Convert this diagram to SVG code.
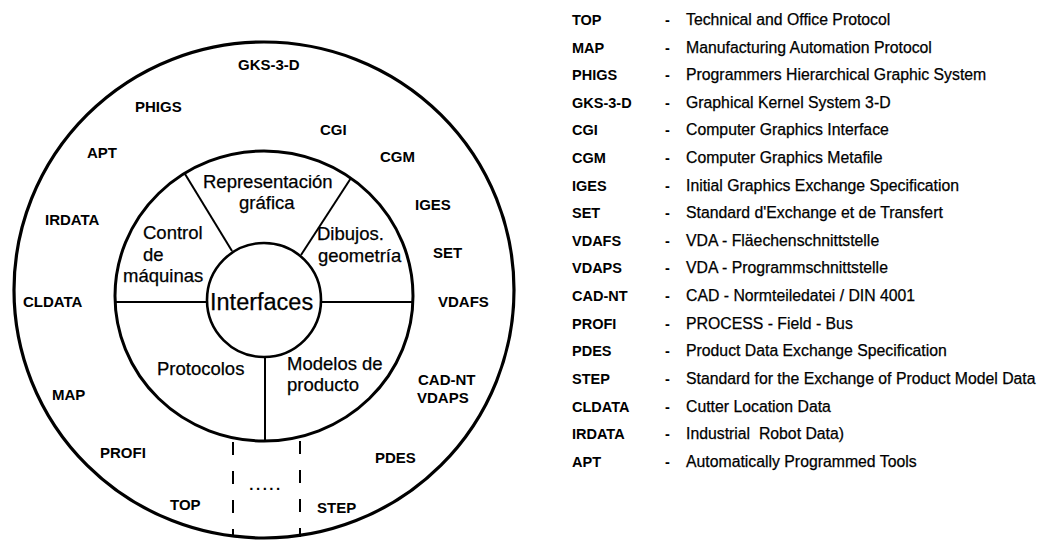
<svg xmlns="http://www.w3.org/2000/svg" width="1061" height="543" viewBox="0 0 1061 543">
  <style>
    .ring { fill: none; stroke: #000; }
    .div { stroke: #000; stroke-width: 2; fill: none; }
    .dash { stroke: #000; stroke-width: 2; stroke-dasharray: 13 16; fill: none; }
    .std { font-family: "Liberation Sans", Arial, sans-serif; font-size: 15px; font-weight: bold; fill: #000; }
    .sec { font-family: "Liberation Sans", Arial, sans-serif; font-size: 18.5px; fill: #000; stroke: #000; stroke-width: 0.25; }
    .core { font-family: "Liberation Sans", Arial, sans-serif; font-size: 23.5px; fill: #000; stroke: #000; stroke-width: 0.25; }
    .abbr { font-family: "Liberation Sans", Arial, sans-serif; font-size: 14.5px; font-weight: bold; fill: #000; }
    .desc { font-family: "Liberation Sans", Arial, sans-serif; font-size: 15.8px; fill: #000; stroke: #000; stroke-width: 0.25; }
  </style>

  <!-- concentric rings -->
  <g id="rings">
    <ellipse id="outer-ring" class="ring" cx="264" cy="290" rx="250" ry="248" stroke-width="3.2"/>
    <ellipse id="middle-ring" class="ring" cx="264" cy="296" rx="149" ry="145" stroke-width="3"/>
    <circle id="core-ring" class="ring" cx="264" cy="300" r="57" stroke-width="2.6"/>
  </g>

  <!-- sector dividers -->
  <g id="connectors">
    <line class="div" x1="185" y1="174" x2="232" y2="251"/>
    <line class="div" x1="351" y1="178" x2="301" y2="255"/>
    <line class="div" x1="115" y1="302" x2="207" y2="302"/>
    <line class="div" x1="321" y1="302" x2="413" y2="302"/>
    <line class="div" x1="265" y1="357" x2="265" y2="441"/>
    <line class="dash" x1="233" y1="442" x2="233" y2="537"/>
    <line class="dash" x1="300" y1="441" x2="300" y2="537"/>
  </g>

  <!-- centre -->
  <g id="interfaces">
    <text class="core" x="210" y="310">Interfaces</text>
  </g>

  <!-- sectors of the middle ring -->
  <g id="sector-representacion">
    <text class="sec" x="203" y="188">Representación</text>
    <text class="sec" x="239" y="209">gráfica</text>
  </g>
  <g id="sector-control">
    <text class="sec" x="143" y="239">Control</text>
    <text class="sec" x="143" y="261">de</text>
    <text class="sec" x="123" y="282">máquinas</text>
  </g>
  <g id="sector-dibujos">
    <text class="sec" x="317" y="240">Dibujos.</text>
    <text class="sec" x="318" y="262">geometría</text>
  </g>
  <g id="sector-protocolos">
    <text class="sec" x="157" y="375">Protocolos</text>
  </g>
  <g id="sector-modelos">
    <text class="sec" x="287" y="370">Modelos de</text>
    <text class="sec" x="287" y="391">producto</text>
  </g>

  <!-- standards in the outer ring -->
  <g id="std-gks"><text class="std" x="238" y="70">GKS-3-D</text></g>
  <g id="std-phigs"><text class="std" x="135" y="112">PHIGS</text></g>
  <g id="std-cgi"><text class="std" x="320" y="135">CGI</text></g>
  <g id="std-apt"><text class="std" x="87" y="158">APT</text></g>
  <g id="std-cgm"><text class="std" x="380" y="162">CGM</text></g>
  <g id="std-iges"><text class="std" x="415" y="210">IGES</text></g>
  <g id="std-irdata"><text class="std" x="45" y="225">IRDATA</text></g>
  <g id="std-set"><text class="std" x="433" y="258">SET</text></g>
  <g id="std-cldata"><text class="std" x="23" y="307">CLDATA</text></g>
  <g id="std-vdafs"><text class="std" x="438" y="307">VDAFS</text></g>
  <g id="std-cadnt"><text class="std" x="418" y="385">CAD-NT</text><text class="std" x="417" y="403">VDAPS</text></g>
  <g id="std-map"><text class="std" x="52" y="400">MAP</text></g>
  <g id="std-profi"><text class="std" x="100" y="458">PROFI</text></g>
  <g id="std-pdes"><text class="std" x="375" y="463">PDES</text></g>
  <g id="std-top"><text class="std" x="170" y="510">TOP</text></g>
  <g id="std-step"><text class="std" x="317" y="513">STEP</text></g>
  <g id="std-more"><text class="std" x="266" y="490" text-anchor="middle" letter-spacing="2.5">.....</text></g>

  <!-- glossary -->
  <g id="legend">
    <g id="leg-top"><text class="abbr" x="572" y="25">TOP</text><text class="abbr" x="665" y="25">-</text><text class="desc" x="686" y="25">Technical and Office Protocol</text></g>
    <g id="leg-map"><text class="abbr" x="572" y="53">MAP</text><text class="abbr" x="665" y="53">-</text><text class="desc" x="686" y="53">Manufacturing Automation Protocol</text></g>
    <g id="leg-phigs"><text class="abbr" x="572" y="80">PHIGS</text><text class="abbr" x="665" y="80">-</text><text class="desc" x="686" y="80">Programmers Hierarchical Graphic System</text></g>
    <g id="leg-gks"><text class="abbr" x="572" y="108">GKS-3-D</text><text class="abbr" x="665" y="108">-</text><text class="desc" x="686" y="108">Graphical Kernel System 3-D</text></g>
    <g id="leg-cgi"><text class="abbr" x="572" y="135">CGI</text><text class="abbr" x="665" y="135">-</text><text class="desc" x="686" y="135">Computer Graphics Interface</text></g>
    <g id="leg-cgm"><text class="abbr" x="572" y="163">CGM</text><text class="abbr" x="665" y="163">-</text><text class="desc" x="686" y="163">Computer Graphics Metafile</text></g>
    <g id="leg-iges"><text class="abbr" x="572" y="191">IGES</text><text class="abbr" x="665" y="191">-</text><text class="desc" x="686" y="191">Initial Graphics Exchange Specification</text></g>
    <g id="leg-set"><text class="abbr" x="572" y="218">SET</text><text class="abbr" x="665" y="218">-</text><text class="desc" x="686" y="218">Standard d'Exchange et de Transfert</text></g>
    <g id="leg-vdafs"><text class="abbr" x="572" y="246">VDAFS</text><text class="abbr" x="665" y="246">-</text><text class="desc" x="686" y="246">VDA - Fläechenschnittstelle</text></g>
    <g id="leg-vdaps"><text class="abbr" x="572" y="273">VDAPS</text><text class="abbr" x="665" y="273">-</text><text class="desc" x="686" y="273">VDA - Programmschnittstelle</text></g>
    <g id="leg-cadnt"><text class="abbr" x="572" y="301">CAD-NT</text><text class="abbr" x="665" y="301">-</text><text class="desc" x="686" y="301">CAD - Normteiledatei / DIN 4001</text></g>
    <g id="leg-profi"><text class="abbr" x="572" y="329">PROFI</text><text class="abbr" x="665" y="329">-</text><text class="desc" x="686" y="329">PROCESS - Field - Bus</text></g>
    <g id="leg-pdes"><text class="abbr" x="572" y="356">PDES</text><text class="abbr" x="665" y="356">-</text><text class="desc" x="686" y="356">Product Data Exchange Specification</text></g>
    <g id="leg-step"><text class="abbr" x="572" y="384">STEP</text><text class="abbr" x="665" y="384">-</text><text class="desc" x="686" y="384">Standard for the Exchange of Product Model Data</text></g>
    <g id="leg-cldata"><text class="abbr" x="572" y="412">CLDATA</text><text class="abbr" x="665" y="412">-</text><text class="desc" x="686" y="412">Cutter Location Data</text></g>
    <g id="leg-irdata"><text class="abbr" x="572" y="439">IRDATA</text><text class="abbr" x="665" y="439">-</text><text class="desc" x="686" y="439" xml:space="preserve">Industrial  Robot Data)</text></g>
    <g id="leg-apt"><text class="abbr" x="572" y="467">APT</text><text class="abbr" x="665" y="467">-</text><text class="desc" x="686" y="467">Automatically Programmed Tools</text></g>
  </g>
</svg>
